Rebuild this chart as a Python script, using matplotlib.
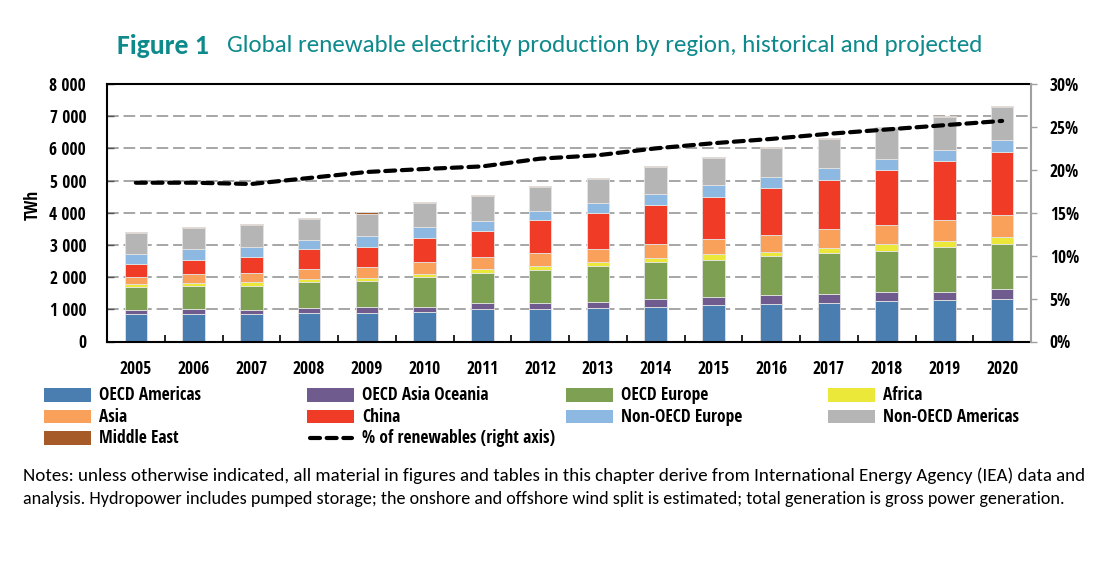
import numpy as np
import matplotlib.pyplot as plt
from matplotlib.patches import Rectangle
from matplotlib.lines import Line2D

# data (TWh per region, share in %)
years = [str(y) for y in range(2005, 2021)]

oecd_americas = [845, 845, 845, 876, 876, 907, 1000, 1000, 1031, 1072, 1134, 1156, 1196, 1249, 1280, 1320]
oecd_asia_oceania = [143, 174, 143, 155, 196, 165, 196, 196, 206, 248, 238, 279, 289, 280, 267, 320]
oecd_europe = [696, 715, 746, 827, 817, 942, 942, 1016, 1099, 1140, 1171, 1231, 1255, 1292, 1398, 1389]
africa = [93, 84, 115, 84, 84, 83, 124, 134, 134, 125, 166, 115, 174, 208, 177, 218]
asia = [237, 279, 289, 320, 331, 373, 363, 404, 404, 444, 491, 537, 581, 581, 653, 683]
china = [404, 445, 487, 612, 642, 756, 818, 1016, 1109, 1222, 1299, 1461, 1532, 1709, 1824, 1958]
non_oecd_europe = [310, 322, 321, 280, 332, 332, 291, 289, 311, 342, 368, 323, 373, 361, 360, 363]
non_oecd_americas = [633, 672, 664, 652, 693, 736, 787, 745, 746, 819, 844, 919, 901, 944, 1007, 1035]
middle_east = [31, 21, 41, 31, 52, 40, 40, 41, 40, 42, 31, 31, 31, 40, 40, 40]
renew_share = [18.5, 18.5, 18.35, 19.05, 19.75, 20.1, 20.4, 21.3, 21.7, 22.5, 23.1, 23.6, 24.2, 24.7, 25.2, 25.7]

regions = ["OECD Americas", "OECD Asia Oceania", "OECD Europe", "Africa", "Asia", "China",
           "Non-OECD Europe", "Non-OECD Americas", "Middle East"]
series = [oecd_americas, oecd_asia_oceania, oecd_europe, africa, asia, china,
          non_oecd_europe, non_oecd_americas, middle_east]
colors = ["#4A7EB0", "#705B8E", "#7DA053", "#EBE83A", "#F9A05A", "#F03C26",
          "#8DB8E2", "#B5B5B5", "#A65A28"]
line_label = "% of renewables (right axis)"

W, H = 1104, 567
plt.rcParams['font.family'] = ['Open Sans Condensed', 'Roboto Condensed', 'DejaVu Sans']
plt.rcParams['font.weight'] = 'bold'
plt.rcParams['font.size'] = 12.5
body_font = ['Carlito', 'Lato']

fig = plt.figure(figsize=(W / 100, H / 100), dpi=100)
ax = fig.add_axes([107 / W, 1 - 341.5 / H, (1031 - 107) / W, (341.5 - 84) / H])

# stacked bars
x = np.arange(len(years))
bottom = np.zeros(len(years))
for vals, col in zip(series, colors):
    ax.bar(x, vals, width=0.39, bottom=bottom, color=col, edgecolor='#e4e4e4', linewidth=0.6, zorder=2)
    bottom += np.array(vals)

ax.set_xlim(-0.5, len(years) - 0.5)
ax.set_ylim(0, 8000)
ax.set_yticks(range(0, 8001, 1000))
ax.set_yticklabels([f"{v:,}".replace(",", " ") for v in range(0, 8001, 1000)])
ax.yaxis.grid(True, color='#A6A6A6', linestyle=(0, (6, 2.5)), linewidth=1.4)
ax.set_axisbelow(True)
ax.tick_params(axis='y', direction='in', length=5, width=1, color='#555555', pad=15)
ax.set_xticks(x)
ax.set_xticklabels(years)
ax.tick_params(axis='x', which='major', length=0, pad=13)
ax.set_xticks(x[:-1] + 0.5, minor=True)
ax.tick_params(axis='x', which='minor', direction='in', length=5, width=1.2, color='black')
for s in ['left', 'bottom', 'top']:
    ax.spines[s].set_linewidth(1.5)
ax.spines['right'].set_visible(False)

# share of renewables on the right axis
ax2 = ax.twinx()
ax2.plot(x, renew_share, color='black', linewidth=3, linestyle=(0, (2.4, 1.6)),
         dash_capstyle='round', zorder=5)
ax2.set_ylim(0, 30)
ax2.set_yticks(range(0, 31, 5))
ax2.set_yticklabels([f"{v}%" for v in range(0, 31, 5)])
ax2.tick_params(axis='y', direction='out', length=4.5, width=1, color='#A0A0A0', pad=9)
for s in ['left', 'bottom', 'top']:
    ax2.spines[s].set_visible(False)
ax2.spines['right'].set_color('#A0A0A0')
ax2.spines['right'].set_linewidth(1.5)

fig.text(33 / W, 1 - 205 / H, "TWh", rotation=90, ha='center', va='center')

# legend, laid out by hand in 4 columns
col_x = [44, 307, 566, 828]
row_y = [395, 416.5, 438]
entries = list(zip(regions, colors)) + [(line_label, None)]
for i, (name, col) in enumerate(entries):
    px, py = col_x[i % 4], row_y[i // 4]
    if col is not None:
        fig.add_artist(Rectangle((px / W, 1 - (py + 6.75) / H), 47 / W, 13.5 / H,
                                 facecolor=col, edgecolor='none', transform=fig.transFigure))
    else:
        fig.add_artist(Line2D([(px + 3) / W, (px + 45) / W], [1 - py / H, 1 - py / H],
                              color='black', linewidth=3, linestyle=(0, (2.4, 1.6)),
                              dash_capstyle='round', transform=fig.transFigure))
    fig.text((px + 55) / W, 1 - py / H, name, ha='left', va='center')

# title and notes
teal = "#0E8A8C"
fig.canvas.draw()
renderer = fig.canvas.get_renderer()


def fit(t, width_px):
    w = t.get_window_extent(renderer).width
    t.set_fontsize(t.get_fontsize() * width_px / w)


t1 = fig.text(117 / W, 1 - 46 / H, "Figure 1", family=body_font, weight='bold', color=teal,
              fontsize=15, ha='left', va='center')
fit(t1, 92)
t2 = fig.text(227 / W, 1 - 46 / H, "Global renewable electricity production by region, historical and projected",
              family=body_font, weight='normal', color=teal, fontsize=15, ha='left', va='center')
fit(t2, 760)

n1 = fig.text(23 / W, 1 - 476 / H,
              "Notes: unless otherwise indicated, all material in figures and tables in this chapter derive "
              "from International Energy Agency (IEA) data and",
              family=body_font, weight='normal', color='black', fontsize=12, ha='left', va='center')
fit(n1, 1058)
n2 = fig.text(23 / W, 1 - 499 / H,
              "analysis. Hydropower includes pumped storage; the onshore and offshore wind split is estimated; "
              "total generation is gross power generation.",
              family=body_font, weight='normal', color='black', fontsize=12, ha='left', va='center')
fit(n2, 1037)

fig.savefig("out.png", dpi=100)
